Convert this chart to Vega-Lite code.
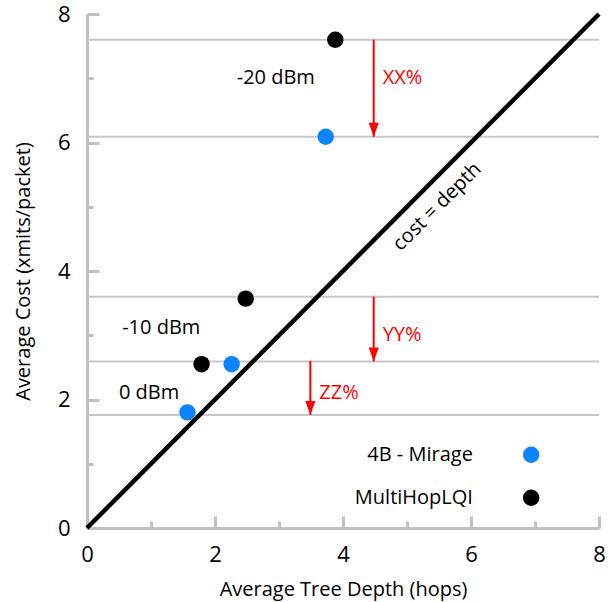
{
  "$schema": "https://vega.github.io/schema/vega-lite/v6.json",
  "width": 512,
  "height": 514,
  "autosize": {"type": "none"},
  "padding": {"left": 87, "top": 14, "right": 9, "bottom": 74},
  "config": {"view": {"stroke": null}, "font": "Open Sans"},
  "datasets": {
    "points": [
      {"series": "MultiHopLQI", "depth": 3.88, "cost": 7.6},
      {"series": "4B - Mirage", "depth": 3.73, "cost": 6.09},
      {"series": "MultiHopLQI", "depth": 2.48, "cost": 3.57},
      {"series": "MultiHopLQI", "depth": 1.79, "cost": 2.55},
      {"series": "4B - Mirage", "depth": 2.26, "cost": 2.55},
      {"series": "4B - Mirage", "depth": 1.57, "cost": 1.8}
    ],
    "grid": [{"cost": 7.6}, {"cost": 6.09}, {"cost": 3.6}, {"cost": 2.59}, {"cost": 1.76}],
    "diag": [{"depth": 0, "cost": 0}, {"depth": 8, "cost": 8}],
    "arrows": [
      {"label": "XX%", "depth": 4.48, "from": 7.6, "to": 6.09, "lx": 4.62, "ly": 7.0},
      {"label": "YY%", "depth": 4.48, "from": 3.6, "to": 2.59, "lx": 4.62, "ly": 3.0},
      {"label": "ZZ%", "depth": 3.49, "from": 2.6, "to": 1.76, "lx": 3.63, "ly": 2.1}
    ],
    "labels": [
      {"text": "-20 dBm", "depth": 2.95, "cost": 7.0},
      {"text": "-10 dBm", "depth": 1.16, "cost": 3.11},
      {"text": "0 dBm", "depth": 0.97, "cost": 2.1}
    ],
    "diaglabel": [{"text": "cost = depth", "depth": 5.47, "cost": 5.0}],
    "legend": [
      {"series": "4B - Mirage", "lx": 6.03, "sx": 6.94, "y": 1.14},
      {"series": "MultiHopLQI", "lx": 6.03, "sx": 6.94, "y": 0.47}
    ]
  },
  "layer": [
    {
      "data": {"name": "grid"},
      "mark": {"type": "rule", "color": "#c8c8c8", "strokeWidth": 2},
      "encoding": {
        "y": {"field": "cost", "type": "quantitative", "title": "Average Cost (xmits/packet)", "scale": {"domain": [0, 8], "nice": false}}
      }
    },
    {
      "data": {"name": "diag"},
      "mark": {"type": "line", "color": "black", "strokeWidth": 4.5, "clip": false},
      "encoding": {
        "x": {
          "field": "depth", "type": "quantitative",
          "title": "Average Tree Depth (hops)",
          "scale": {"domain": [0, 8], "nice": false},
          "axis": {
            "values": [0, 1, 2, 3, 4, 5, 6, 7, 8],
            "format": "d",
            "labelExpr": "datum.value % 2 === 0 ? datum.label : ''",
            "domainColor": "#c0c0c0", "domainWidth": 3,
            "tickColor": "#c0c0c0", "tickWidth": 3,
            "tickSize": {"condition": {"test": "datum.value % 2 === 0", "value": -12}, "value": -7},
            "grid": false, "labelFontSize": 22, "labelColor": "black", "labelPadding": 28,
            "labelFlush": false, "labelOverlap": false,
            "titleFontSize": 20, "titleFontWeight": "normal", "titleColor": "black", "titlePadding": 9
          }
        },
        "y": {
          "field": "cost", "type": "quantitative",
          "title": "Average Cost (xmits/packet)",
          "scale": {"domain": [0, 8], "nice": false},
          "axis": {
            "values": [0, 1, 2, 3, 4, 5, 6, 7, 8],
            "format": "d",
            "labelExpr": "datum.value % 2 === 0 ? datum.label : ''",
            "domainColor": "#c0c0c0", "domainWidth": 3,
            "tickColor": "#c0c0c0", "tickWidth": 3,
            "tickSize": {"condition": {"test": "datum.value % 2 === 0", "value": -12}, "value": -6},
            "grid": false, "labelFontSize": 22, "labelColor": "black", "labelPadding": 29,
            "labelFlush": false, "labelOverlap": false,
            "titleFontSize": 20, "titleFontWeight": "normal", "titleColor": "black", "titlePadding": 24
          }
        }
      }
    },
    {
      "data": {"name": "points"},
      "mark": {"type": "circle", "size": 270, "opacity": 1},
      "encoding": {
        "x": {"field": "depth", "type": "quantitative", "title": "Average Tree Depth (hops)"},
        "y": {"field": "cost", "type": "quantitative", "title": "Average Cost (xmits/packet)"},
        "color": {"field": "series", "type": "nominal", "scale": {"domain": ["4B - Mirage", "MultiHopLQI"], "range": ["#0A84FF", "#000000"]}, "legend": null}
      }
    },
    {
      "data": {"name": "arrows"},
      "mark": {"type": "rule", "color": "#ff0000", "strokeWidth": 2},
      "encoding": {
        "x": {"field": "depth", "type": "quantitative", "title": "Average Tree Depth (hops)"},
        "y": {"field": "from", "type": "quantitative", "title": "Average Cost (xmits/packet)"},
        "y2": {"field": "to"}
      }
    },
    {
      "data": {"name": "arrows"},
      "mark": {"type": "point", "shape": "M-0.36,-1L0.36,-1L0,0Z", "size": 784, "filled": true, "color": "#ff0000", "opacity": 1},
      "encoding": {
        "x": {"field": "depth", "type": "quantitative", "title": "Average Tree Depth (hops)"},
        "y": {"field": "to", "type": "quantitative", "title": "Average Cost (xmits/packet)"}
      }
    },
    {
      "data": {"name": "arrows"},
      "mark": {"type": "text", "align": "left", "baseline": "middle", "fontSize": 20, "color": "#ff0000"},
      "encoding": {
        "x": {"field": "lx", "type": "quantitative", "title": "Average Tree Depth (hops)"},
        "y": {"field": "ly", "type": "quantitative", "title": "Average Cost (xmits/packet)"},
        "text": {"field": "label"}
      }
    },
    {
      "data": {"name": "labels"},
      "mark": {"type": "text", "align": "center", "baseline": "middle", "fontSize": 20, "color": "black"},
      "encoding": {
        "x": {"field": "depth", "type": "quantitative", "title": "Average Tree Depth (hops)"},
        "y": {"field": "cost", "type": "quantitative", "title": "Average Cost (xmits/packet)"},
        "text": {"field": "text"}
      }
    },
    {
      "data": {"name": "diaglabel"},
      "mark": {"type": "text", "align": "center", "baseline": "middle", "fontSize": 20, "angle": 315, "color": "black"},
      "encoding": {
        "x": {"field": "depth", "type": "quantitative", "title": "Average Tree Depth (hops)"},
        "y": {"field": "cost", "type": "quantitative", "title": "Average Cost (xmits/packet)"},
        "text": {"field": "text"}
      }
    },
    {
      "data": {"name": "legend"},
      "mark": {"type": "text", "align": "right", "baseline": "middle", "fontSize": 20, "color": "black"},
      "encoding": {
        "x": {"field": "lx", "type": "quantitative", "title": "Average Tree Depth (hops)"},
        "y": {"field": "y", "type": "quantitative", "title": "Average Cost (xmits/packet)"},
        "text": {"field": "series"}
      }
    },
    {
      "data": {"name": "legend"},
      "mark": {"type": "circle", "size": 270, "opacity": 1},
      "encoding": {
        "x": {"field": "sx", "type": "quantitative", "title": "Average Tree Depth (hops)"},
        "y": {"field": "y", "type": "quantitative", "title": "Average Cost (xmits/packet)"},
        "color": {"field": "series", "type": "nominal", "legend": null}
      }
    }
  ]
}
